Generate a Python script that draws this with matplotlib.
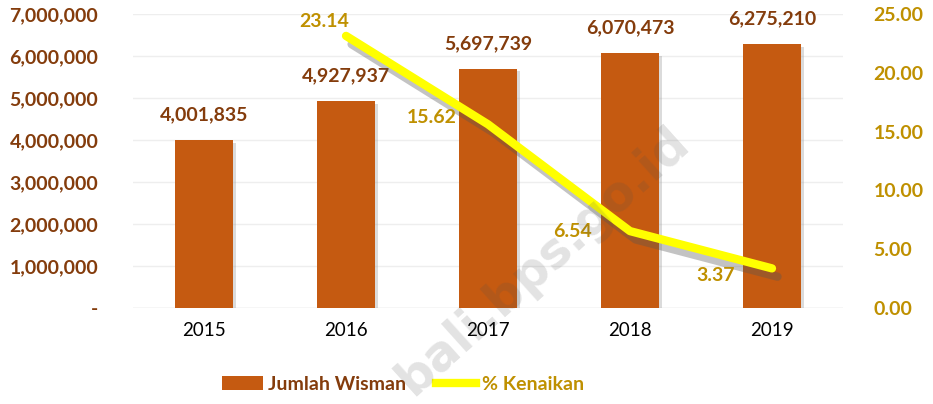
import matplotlib
matplotlib.use("Agg")
import matplotlib.pyplot as plt
import matplotlib.patheffects as pe
from matplotlib.ticker import FuncFormatter
from matplotlib.patches import Patch
from matplotlib.lines import Line2D

years = ["2015", "2016", "2017", "2018", "2019"]
wisman = [4001835, 4927937, 5697739, 6070473, 6275210]
kenaikan_years = ["2016", "2017", "2018", "2019"]
kenaikan = [23.14, 15.62, 6.54, 3.37]
left_ticks = [0, 1000000, 2000000, 3000000, 4000000, 5000000, 6000000, 7000000]
right_ticks = [0, 5, 10, 15, 20, 25]

BAR = "#C55A11"
BROWN = "#843C0C"
GOLD = "#BF9000"
YEL = "#FFFF00"

plt.rcParams['font.family'] = ['Lato', 'DejaVu Sans']

fig = plt.figure(figsize=(9.33, 4.04), dpi=100)
ax = fig.add_axes([0.1426, 0.2376, 0.7609, 0.7277])
x = list(range(len(years)))
ax.bar(x, wisman, width=0.41, color=BAR, zorder=2,
       path_effects=[pe.SimplePatchShadow(offset=(2, -2), shadow_rgbFace="#999999", alpha=0.35), pe.Normal()])
ax.set_xlim(-0.5, len(years) - 0.5)
ax.set_ylim(0, 7000000)
ax.set_yticks(left_ticks)
ax.yaxis.set_major_formatter(FuncFormatter(lambda v, p: "-" if v == 0 else f"{int(v):,}"))
ax.set_xticks(x)
ax.set_xticklabels(years, fontsize=13.5, color="black")
for t in ax.get_yticklabels():
    t.set_color(BROWN); t.set_fontweight("bold"); t.set_fontsize(14)
ax.tick_params(axis="y", length=0, pad=25)
ax.tick_params(axis="x", length=0, pad=10)
ax.grid(axis="y", color="#EEEEEE", linewidth=1, zorder=0)
for s in ax.spines.values():
    s.set_visible(False)
ax.axhline(0, color="#E0E0E0", linewidth=1, zorder=1)

for xi, v in zip(x, wisman):
    ax.text(xi, v + 400000, f"{v:,}", ha="center", va="bottom", color=BROWN,
            fontsize=14, fontweight="bold", zorder=5)

ax2 = ax.twinx()
ax2.set_ylim(0, 25)
ax2.set_yticks(right_ticks)
ax2.set_yticklabels([f"{v:.2f}" for v in right_ticks])
for t in ax2.get_yticklabels():
    t.set_color(GOLD); t.set_fontweight("bold"); t.set_fontsize(14)
ax2.tick_params(axis="y", length=0, pad=22)
for s in ax2.spines.values():
    s.set_visible(False)
xk = [years.index(y) for y in kenaikan_years]
ax2.plot(xk, kenaikan, color=YEL, linewidth=6, solid_capstyle="round", zorder=4,
         path_effects=[pe.SimpleLineShadow(offset=(4, -6), shadow_color="#555555", alpha=0.35), pe.Normal()])
offsets = [(0.02, 1.2), (-0.22, 0.55), (-0.27, 0.0), (-0.26, -0.6)]
for xi, v, (dx, dy) in zip(xk, kenaikan, offsets):
    ax2.text(xi + dx, v + dy, f"{v:.2f}", ha="right", va="center", color=GOLD,
             fontsize=14, fontweight="bold", zorder=5)

fig.text(0.582, 0.355, "bali.bps.go.id", rotation=42, ha="center", va="center",
         fontsize=35, fontweight="bold", family="DejaVu Sans", color="#505050",
         alpha=0.16, zorder=10)

handles = [Patch(facecolor=BAR), Line2D([0], [0], color=YEL, linewidth=6)]
leg = fig.legend(handles, ["Jumlah Wisman", "% Kenaikan"], loc="lower center",
                 bbox_to_anchor=(0.432, -0.015), ncol=2, frameon=False,
                 prop={"weight": "bold", "size": 14}, handlelength=2.1,
                 columnspacing=1.5, handletextpad=0.3)
leg.get_texts()[0].set_color(BROWN)
leg.get_texts()[1].set_color(GOLD)

fig.savefig("out.png", dpi=100)
